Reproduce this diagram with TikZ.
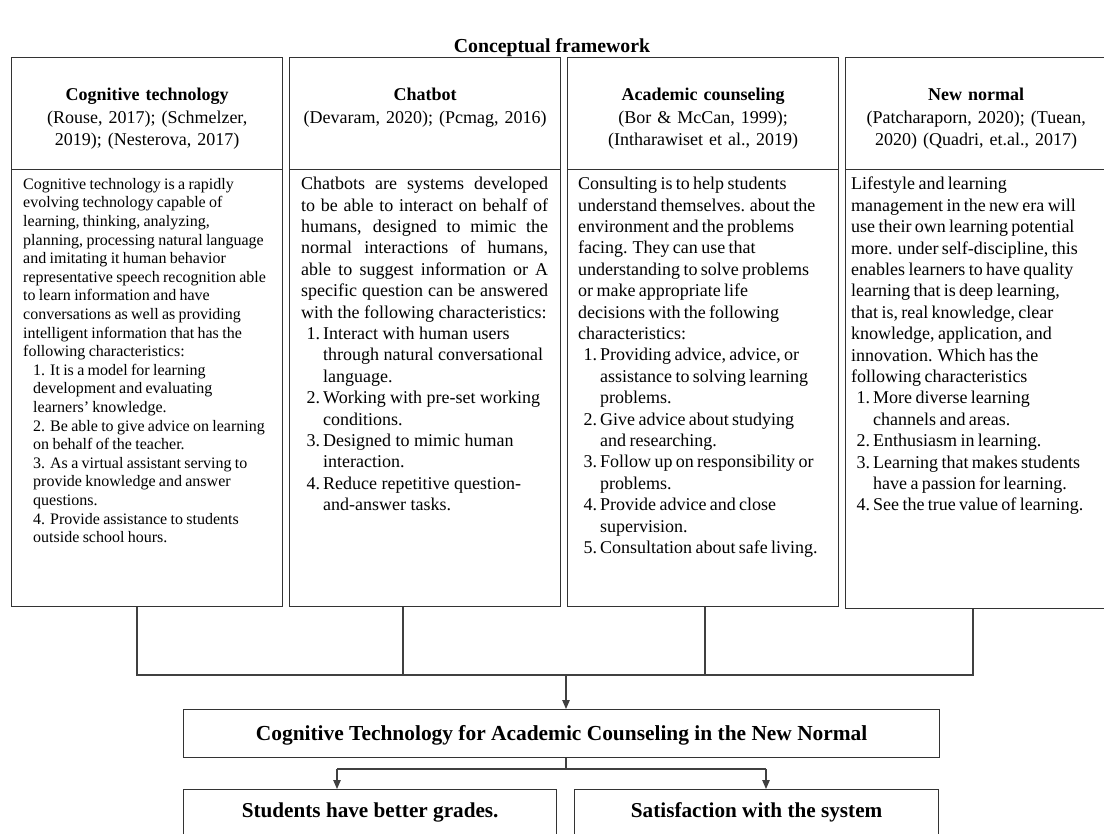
\documentclass[tikz,border=0pt]{standalone}
\usepackage{fontspec}
\setmainfont{Liberation Serif}
\usetikzlibrary{arrows.meta}
\newcommand\lstitem[2]{\par\hangindent=22pt\hangafter=1\noindent\makebox[22pt][r]{#1\hspace{3pt}}#2\par}
\tikzset{
  boxline/.style={draw=black!80, line width=1.3pt},
  frame/.style={boxline, inner sep=0pt, anchor=north west},
  hdrtext/.style={inner sep=0pt, anchor=north, text width=265pt, align=center, font=\fontsize{18}{22.5}\selectfont},
  bodytext/.style={inner sep=0pt, anchor=north west},
  conn/.style={draw=black!75, line width=1.1pt},
  arr/.style={conn, -{Triangle[length=9pt,width=7.5pt]}},
}
\begin{document}
\begin{tikzpicture}[x=1pt,y=1pt]
\useasboundingbox (0,0) rectangle (1104,-834);
\clip (0,0) rectangle (1104,-834);
\fill[white] (0,0) rectangle (1104,-834);

\node (title) at (552,-47.5) {\fontsize{19.8}{23}\selectfont\bfseries Conceptual framework};

% header frames
\node[frame, minimum width=271pt, minimum height=112pt] (h1) at (11,-57) {};
\node[frame, minimum width=271pt, minimum height=112pt] (h2) at (289,-57) {};
\node[frame, minimum width=271pt, minimum height=112pt] (h3) at (567,-57) {};
\node[frame, minimum width=261pt, minimum height=112pt] (h4) at (845,-57) {};
% body frames
\node[frame, minimum width=271pt, minimum height=437pt] (b1) at (11,-169) {};
\node[frame, minimum width=271pt, minimum height=437pt] (b2) at (289,-169) {};
\node[frame, minimum width=271pt, minimum height=437pt] (b3) at (567,-169) {};
\node[frame, minimum width=261pt, minimum height=439pt] (b4) at (845,-169) {};

% header texts
\node[hdrtext] (t1) at ([yshift=-31pt]h1.north) {\textbf{Cognitive technology}\\(Rouse, 2017); (Schmelzer,\\2019); (Nesterova, 2017)};
\node[hdrtext] (t2) at ([yshift=-31pt]h2.north) {\textbf{Chatbot}\\(Devaram, 2020); (Pcmag, 2016)};
\node[hdrtext] (t3) at ([yshift=-31pt]h3.north) {\textbf{Academic counseling}\\(Bor \& McCan, 1999);\\(Intharawiset et al., 2019)};
\node[hdrtext] (t4) at ([yshift=-31pt]h4.north) {\textbf{New normal}\\(Patcharaporn, 2020); (Tuean,\\2020) (Quadri, et.al., 2017)};

% body texts
\node[bodytext, text width=252pt] (x1) at ([xshift=12pt,yshift=-9pt]b1.north west) {\fontsize{16}{18.6}\selectfont\raggedright
Cognitive technology is a rapidly\\
evolving technology capable of\\
learning, thinking, analyzing,\\
planning, processing natural language\\
and imitating it human behavior\\
representative speech recognition able\\
to learn information and have\\
conversations as well as providing\\
intelligent information that has the\\
following characteristics:\par
\leftskip=10pt
1. It is a model for learning\\
development and evaluating\\
learners' knowledge.\\
2. Be able to give advice on learning\\
on behalf of the teacher.\\
3. As a virtual assistant serving to\\
provide knowledge and answer\\
questions.\\
4. Provide assistance to students\\
outside school hours.\par};

\node[bodytext, text width=247pt, align=justify] (x2) at ([xshift=12pt,yshift=-8pt]b2.north west) {\fontsize{18}{21.4}\selectfont
Chatbots are systems developed\linebreak
to be able to interact on behalf of\linebreak
humans, designed to mimic the\linebreak
normal interactions of humans,\linebreak
able to suggest information or A\linebreak
specific question can be answered\linebreak
with the following characteristics:\par
\raggedright
\lstitem{1.}{Interact with human users\newline through natural conversational\newline language.}
\lstitem{2.}{Working with pre-set working\newline conditions.}
\lstitem{3.}{Designed to mimic human\newline interaction.}
\lstitem{4.}{Reduce repetitive question-\newline and-answer tasks.}};

\node[bodytext, text width=255pt] (x3) at ([xshift=11pt,yshift=-8pt]b3.north west) {\fontsize{18}{21.4}\selectfont\raggedright
Consulting is to help students\\
understand themselves. about the\\
environment and the problems\\
facing. They can use that\\
understanding to solve problems\\
or make appropriate life\\
decisions with the following\\
characteristics:
\lstitem{1.}{Providing advice, advice, or\newline assistance to solving learning\newline problems.}
\lstitem{2.}{Give advice about studying\newline and researching.}
\lstitem{3.}{Follow up on responsibility or\newline problems.}
\lstitem{4.}{Provide advice and close\newline supervision.}
\lstitem{5.}{Consultation about safe living.}};

\node[bodytext, text width=255pt] (x4) at ([xshift=6pt,yshift=-8pt]b4.north west) {\fontsize{18}{21.4}\selectfont\raggedright
Lifestyle and learning\\
management in the new era will\\
use their own learning potential\\
more. under self-discipline, this\\
enables learners to have quality\\
learning that is deep learning,\\
that is, real knowledge, clear\\
knowledge, application, and\\
innovation. Which has the\\
following characteristics
\lstitem{1.}{More diverse learning\newline channels and areas.}
\lstitem{2.}{Enthusiasm in learning.}
\lstitem{3.}{Learning that makes students\newline have a passion for learning.}
\lstitem{4.}{See the true value of learning.}};

% central and result boxes
\node[frame, minimum width=756pt, minimum height=48pt] (mid) at (183,-709) {};
\node[font=\fontsize{21.4}{25}\selectfont\bfseries, inner sep=0pt] (midt) at ([yshift=-1.5pt]mid.center) {Cognitive Technology for Academic Counseling in the New Normal};
\node[frame, minimum width=373pt, minimum height=80pt] (bl) at (183,-789) {};
\node[frame, minimum width=364pt, minimum height=80pt] (br) at (574,-789) {};
\node[font=\fontsize{21.2}{25}\selectfont\bfseries, inner sep=0pt] (blt) at ([yshift=-23pt]bl.north) {Students have better grades.};
\node[font=\fontsize{21.2}{25}\selectfont\bfseries, inner sep=0pt] (brt) at ([yshift=-23pt]br.north) {Satisfaction with the system};

% connectors
\coordinate (j1) at (137,-675);
\coordinate (j2) at (403,-675);
\coordinate (j3) at (705,-675);
\coordinate (j4) at (973,-675);
\coordinate (j0) at (566,-675);
\draw[conn] (b1.south -| j1) -- (j1) -- (j4) -- (b4.south -| j4);
\draw[conn] (b2.south -| j2) -- (j2);
\draw[conn] (b3.south -| j3) -- (j3);
\draw[arr] (j0) -- (j0 |- mid.north);
\coordinate (k0) at (566,-769);
\coordinate (kl) at (337,-769);
\coordinate (kr) at (766,-769);
\draw[conn] (mid.south -| k0) -- (k0);
\draw[conn] (kl) -- (kr);
\draw[arr] (kl) -- (kl |- bl.north);
\draw[arr] (kr) -- (kr |- br.north);
\end{tikzpicture}
\end{document}
